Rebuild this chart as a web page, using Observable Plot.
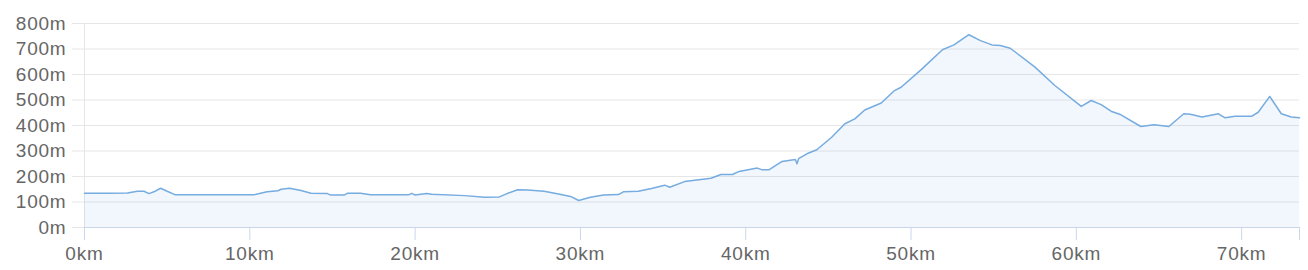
<!DOCTYPE html>
<html>
<head>
<meta charset="utf-8">
<script src="https://cdn.jsdelivr.net/npm/d3@7"></script>
<script src="https://cdn.jsdelivr.net/npm/@observablehq/plot@0.6"></script>
<style>
  html, body { margin: 0; padding: 0; background: #fff; }
  #chart svg { display: block; }
  #chart svg text { letter-spacing: 0.8px; }
</style>
</head>
<body>
<div id="chart"></div>
<script>
const distKm = [0, 1.5, 2.6, 3.2, 3.6, 3.9, 4.2, 4.6, 5.0, 5.5, 7.0, 9.0, 10.25, 11.05, 11.7, 11.9, 12.4, 13.1, 13.7, 14.7, 14.9, 15.7, 15.9, 16.7, 17.3, 19.6, 19.8, 20.0, 20.7, 21.0, 23.0, 24.2, 25.1, 25.6, 26.2, 26.8, 27.8, 28.6, 29.4, 29.9, 30.6, 31.4, 32.3, 32.6, 33.5, 34.3, 35.1, 35.4, 36.3, 37.9, 38.5, 39.2, 39.6, 40.7, 41.0, 41.4, 42.2, 43.0, 43.1, 43.2, 43.7, 44.3, 45.2, 46.0, 46.6, 47.2, 48.2, 49.0, 49.4, 50.6, 51.9, 52.6, 53.5, 54.2, 54.9, 55.4, 56.0, 57.5, 58.7, 60.3, 60.9, 61.5, 62.1, 62.7, 63.9, 64.7, 65.6, 66.5, 66.9, 67.6, 68.6, 69.0, 69.6, 70.6, 71.0, 71.7, 72.4, 73.0, 73.5];
const elevM = [134, 134, 135, 142, 142, 133, 140, 154, 142, 128, 128, 128, 128, 140, 144, 150, 154, 145, 134, 133, 127, 127, 134, 134, 128, 128, 134, 127, 133, 130, 125, 119, 120, 134, 148, 147, 142, 132, 122, 106, 119, 127, 129, 140, 142, 153, 166, 158, 180, 193, 208, 208, 220, 233, 226, 226, 259, 267, 250, 270, 289, 305, 354, 407, 426, 461, 488, 537, 550, 618, 697, 716, 756, 733, 716, 714, 703, 629, 557, 475, 498, 482, 456, 442, 396, 403, 396, 446, 444, 433, 446, 430, 436, 436, 452, 514, 446, 433, 430];

const yTicks = [0, 100, 200, 300, 400, 500, 600, 700, 800];
const yLabels = ["0m", "100m", "200m", "300m", "400m", "500m", "600m", "700m", "800m"];
const xTicks = [0, 10, 20, 30, 40, 50, 60, 70, 73.5];
const xLabels = ["0km", "10km", "20km", "30km", "40km", "50km", "60km", "70km", ""];

const data = distKm.map((d, i) => ({km: d, elev: elevM[i]}));

const chart = Plot.plot({
  width: 1308,
  height: 270,
  marginLeft: 84,
  marginRight: 9,
  marginTop: 23,
  marginBottom: 43,
  style: {fontFamily: "'Liberation Sans', Arial, sans-serif", fontSize: "19px", background: "#fff"},
  x: {domain: [0, 73.5]},
  y: {domain: [0, 800]},
  marks: [
    Plot.gridY(yTicks, {stroke: "#e6e6e6", strokeOpacity: 1}),
    Plot.ruleX([0], {stroke: "#e6e6e6"}),
    Plot.axisY(yTicks, {tickSize: 12, stroke: "#e6e6e6", strokeOpacity: 1, text: null, label: null}),
    Plot.axisY(yTicks, {tickSize: 0, tickPadding: 18, fill: "#666", tickFormat: d => yLabels[yTicks.indexOf(d)], label: null}),
    Plot.areaY(data, {x: "km", y: "elev", fill: "#7cb5ec", fillOpacity: 0.1}),
    Plot.lineY(data, {x: "km", y: "elev", stroke: "#76acdf", strokeWidth: 1.5}),
    Plot.ruleY([0], {stroke: "#ccd6eb"}),
    Plot.axisX(xTicks, {tickSize: 13, tickPadding: 6, stroke: "#ccd6eb", strokeOpacity: 1, fill: "#666", tickFormat: d => xLabels[xTicks.indexOf(d)], label: null})
  ]
});
document.getElementById("chart").append(chart);
</script>
</body>
</html>
